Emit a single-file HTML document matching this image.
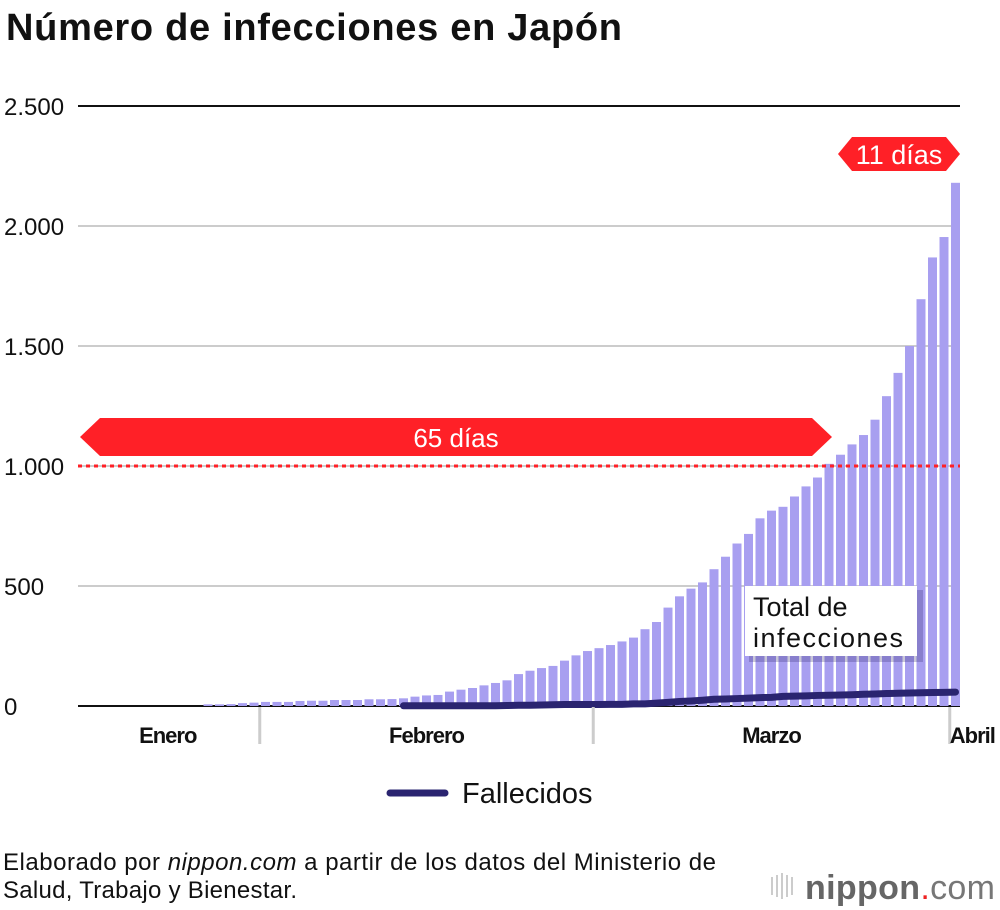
<!DOCTYPE html>
<html><head><meta charset="utf-8">
<style>
body{margin:0;background:#fff;font-family:"Liberation Sans",Arial,sans-serif;}
#wrap{position:relative;width:1000px;height:910px;overflow:hidden;}
</style></head>
<body><div id="wrap">
<svg id="chart" width="1000" height="910">
<text x="6" y="40" font-size="38" font-weight="bold" fill="#111" textLength="616">Número de infecciones en Japón</text>
<g id="grid"></g>
<g id="bars"></g>
<g id="annot"></g>
<g id="deaths"></g>
<g id="xaxis"></g>
<g>
<line x1="390" y1="793" x2="445" y2="793" stroke="#2a2470" stroke-width="7" stroke-linecap="round"/>
<text x="462" y="803" font-size="29" fill="#111">Fallecidos</text>
</g>
<text x="3" y="870" font-size="24" fill="#111" textLength="713">Elaborado por <tspan font-style="italic">nippon.com</tspan> a partir de los datos del Ministerio de</text>
<text x="3" y="898" font-size="24" fill="#111" textLength="294">Salud, Trabajo y Bienestar.</text>
<g>
<rect x="771" y="877" width="2" height="18" fill="#ccc"/><rect x="776" y="875" width="2" height="22" fill="#ccc"/><rect x="781" y="873" width="2" height="26" fill="#ccc"/><rect x="786" y="875" width="2" height="22" fill="#ccc"/><rect x="791" y="877" width="2" height="18" fill="#ccc"/>
<text x="805" y="899" font-size="34" fill="#666" textLength="190"><tspan font-weight="bold">nippon</tspan><tspan fill="#e22">.</tspan><tspan fill="#777">com</tspan></text>
</g>
</svg>
<script>
const totals=[7,7,8,12,14,17,17,17,21,22,22,25,25,25,28,28,29,32,39,44,46,60,68,75,86,96,107,133,147,158,167,189,211,
229,241,254,269,285,320,350,410,457,489,515,570,622,677,717,782,814,830,873,915,952,1009,1047,1090,1129,1193,1291,1388,1500,1695,1869,1954,2180];
const deathStart=17;
const deaths=[1,1,1,1,1,1,1,1,1,2,3,3,4,5,6,6,6,6,7,7,9,9,12,15,19,21,24,28,29,31,33,35,36,40,41,42,44,45,46,47,49,50,52,53,54,55,56,57,58];
const yTicks=[0,500,1000,1500,2000,2500];
const yTickLabels=["0","500","1.000","1.500","2.000","2.500"];
const months=["Enero","Febrero","Marzo","Abril"];
const monthLabelDay=[-3.5,19,49,64.5];
const monthTickDay=[4.5,33.5,64.5];
const NS="http://www.w3.org/2000/svg";
const y=v=>706-v*0.24;
const x=i=>208+i*11.5;
function mk(tag,attrs,parent){const e=document.createElementNS(NS,tag);for(const k in attrs)e.setAttribute(k,attrs[k]);parent.appendChild(e);return e;}
const grid=document.getElementById('grid');
yTicks.forEach((t,i)=>{
 const l=mk('line',{x1:78,x2:960,y1:y(t),y2:y(t),stroke:(t===2500||t===0)?'#111':'#ccc','stroke-width':2},grid);
 
 
 const tx=mk('text',{x:4,y:y(t)+9,'font-size':24,fill:'#111'},grid);
 tx.textContent=yTickLabels[i];
 
 
});
const bars=document.getElementById('bars');
totals.forEach((v,i)=>{
 const r=mk('rect',{x:x(i)-4.5,y:y(v),width:9,height:706-y(v),fill:'#a89ff0'},bars);
 
 
});
const an=document.getElementById('annot');
let d=mk('line',{x1:78,x2:960,y1:y(1000),y2:y(1000),stroke:'#ff2027','stroke-width':3,'stroke-dasharray':'4 4'},an);


let b1=mk('polygon',{points:'80,437 100,418 812,418 832,437 812,456 100,456',fill:'#ff2027'},an);


let t1=mk('text',{x:456,y:447,'font-size':26,fill:'#fff','text-anchor':'middle'},an);t1.textContent='65 días';


let b2=mk('polygon',{points:'838,154 852,137 946,137 960,154 946,171 852,171',fill:'#ff2027'},an);


let t2=mk('text',{x:899,y:164,'font-size':27,fill:'#fff','text-anchor':'middle'},an);t2.textContent='11 días';


let sh=mk('rect',{x:749,y:590,width:174,height:72,fill:'rgba(40,30,100,0.25)'},an);


let box=mk('rect',{x:745,y:586,width:172,height:70,fill:'#fff'},an);


let l1=mk('text',{x:753,y:616,'font-size':27,fill:'#111'},an);l1.textContent='Total de';


let l2=mk('text',{x:753,y:647,'font-size':27,fill:'#111',textLength:150},an);l2.textContent='infecciones';


const dg=document.getElementById('deaths');
const pts=deaths.map((v,i)=>x(deathStart+i)+','+y(v)).join(' ');
let pl=mk('polyline',{points:pts,fill:'none',stroke:'#2a2470','stroke-width':7,'stroke-linecap':'round','stroke-linejoin':'round'},dg);


const xa=document.getElementById('xaxis');
monthTickDay.forEach(m=>{
 const l=mk('line',{x1:x(m),x2:x(m),y1:707,y2:744,stroke:'#ccc','stroke-width':3},xa);
 
 
});
months.forEach((m,i)=>{
 const t=mk('text',{x:x(monthLabelDay[i]),y:743,'font-size':22,'font-weight':'bold',fill:'#111','text-anchor':i===3?'start':'middle',style:'letter-spacing:-1px'},xa);
 t.textContent=m;
 
 
});
</script>
</div></body></html>
